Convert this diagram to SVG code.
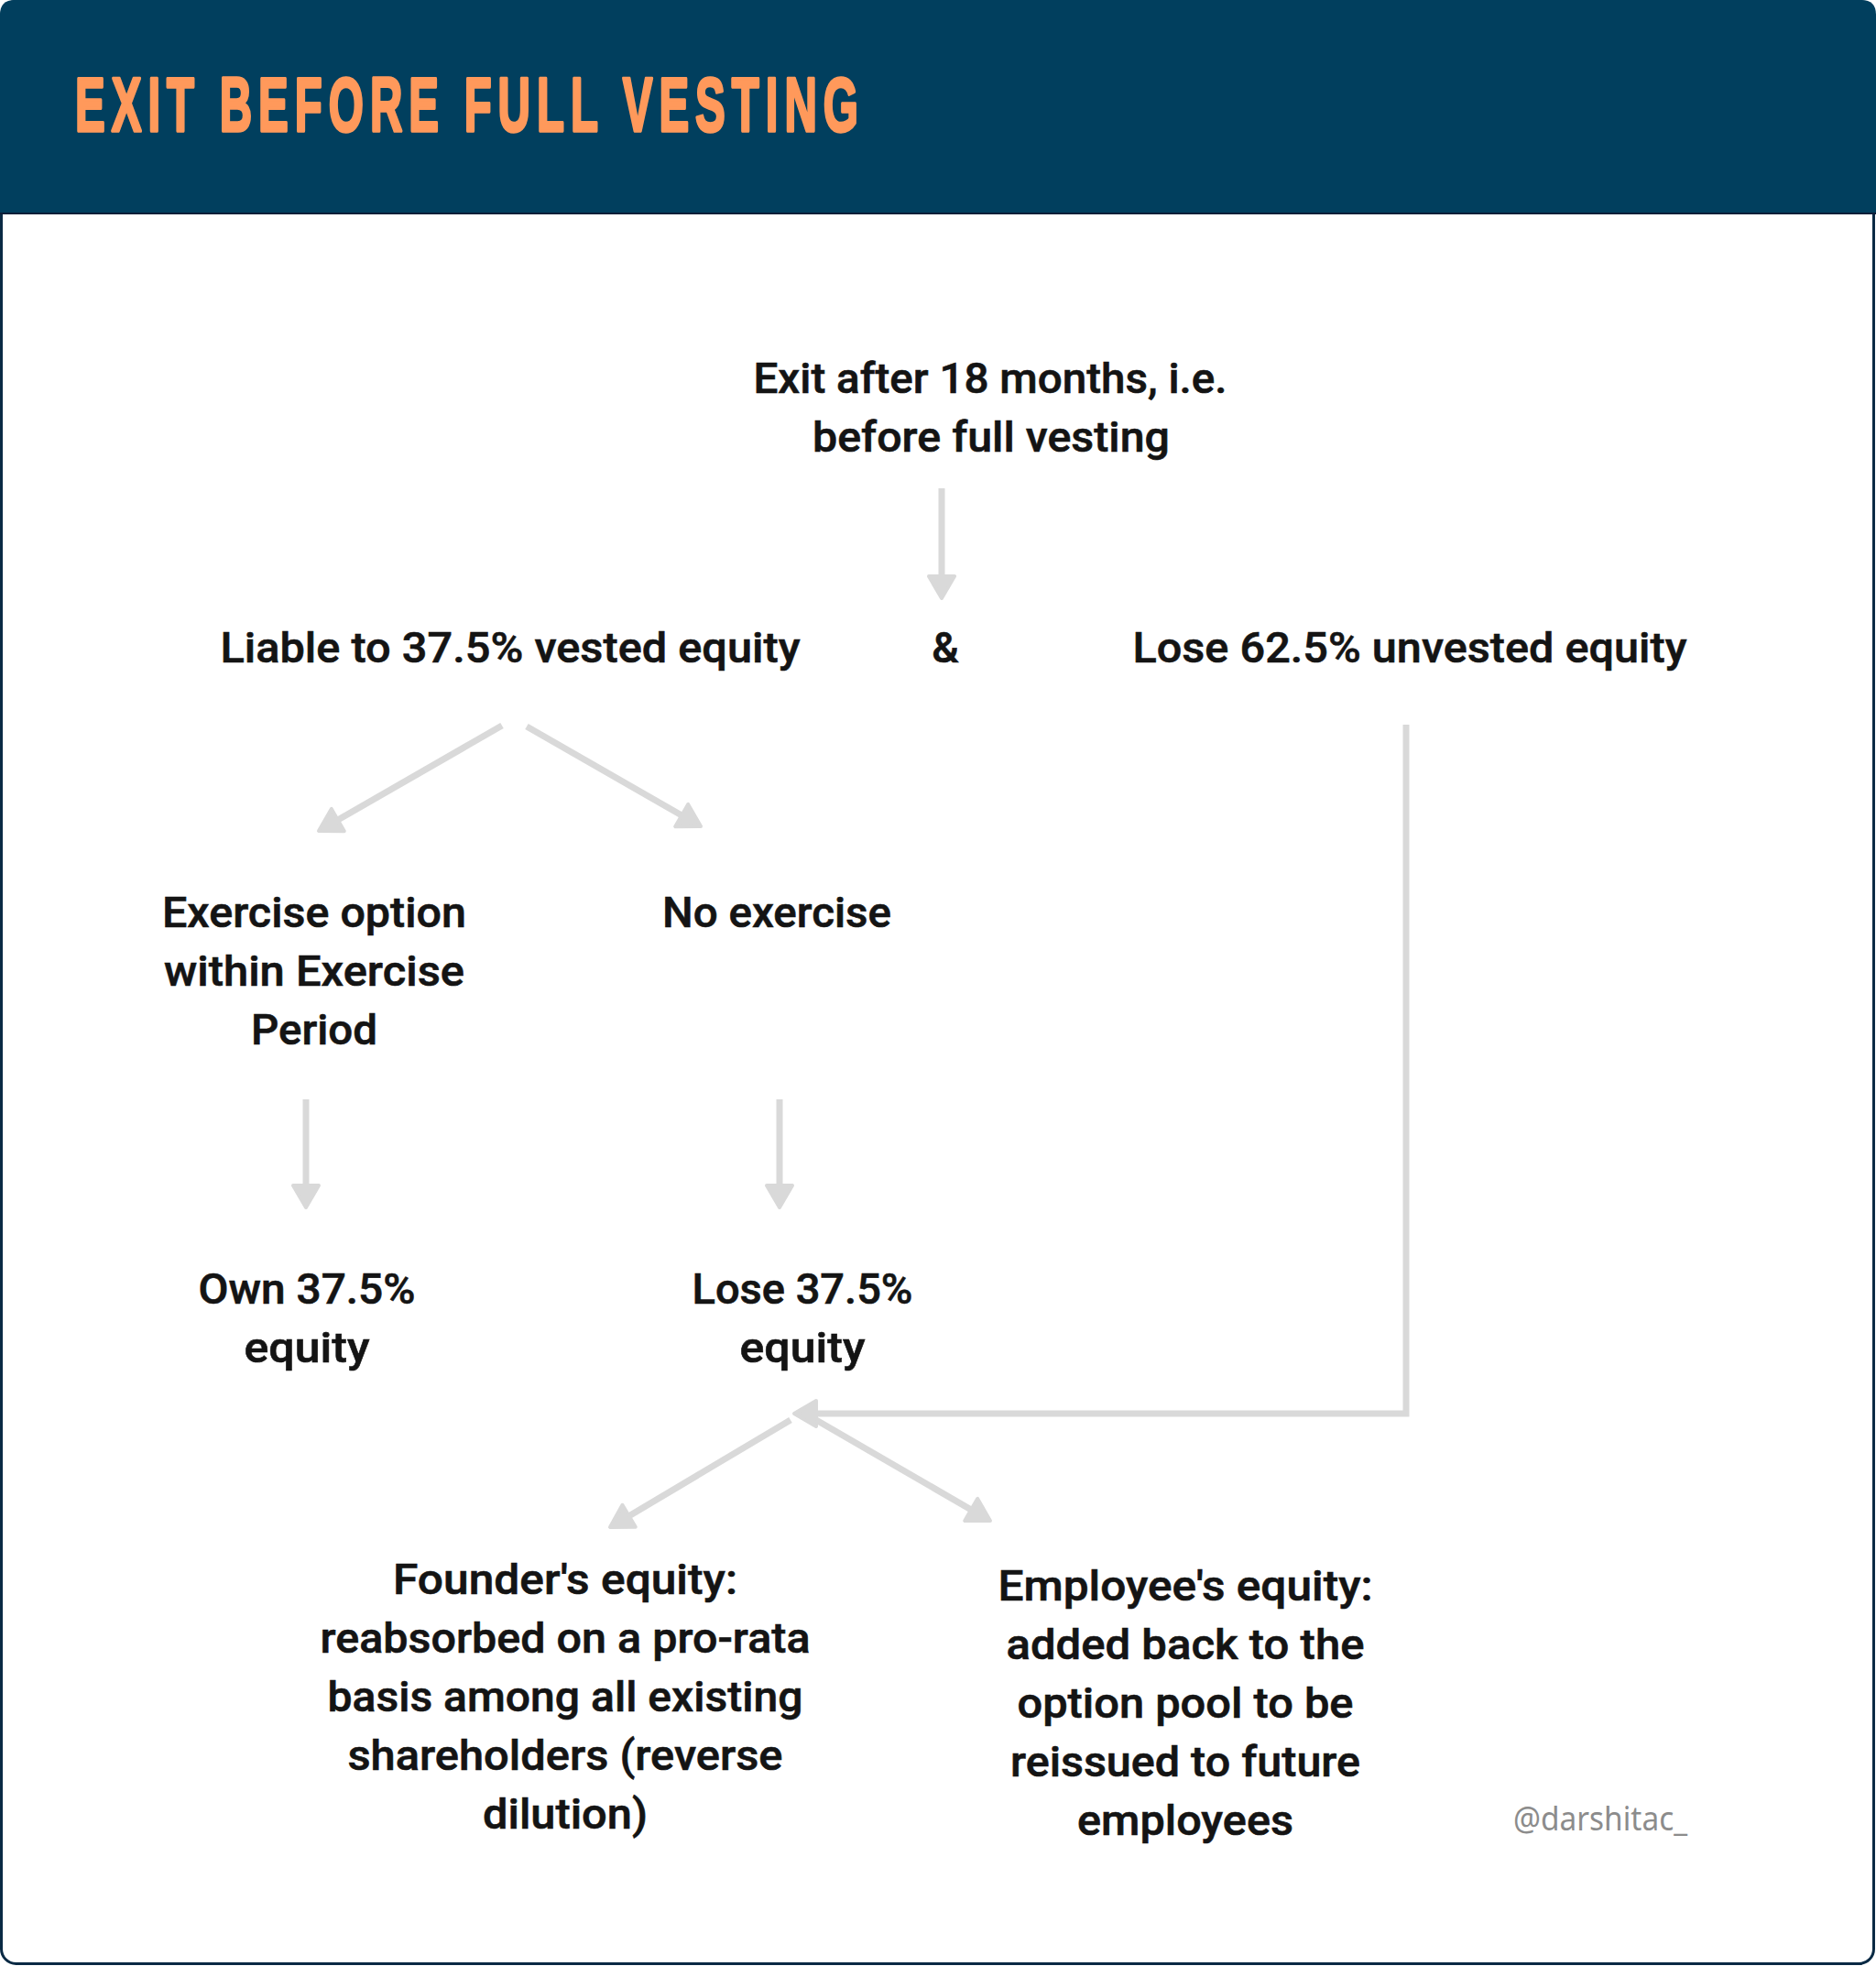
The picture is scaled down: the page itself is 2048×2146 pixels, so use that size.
<svg xmlns="http://www.w3.org/2000/svg" width="2048" height="2146" viewBox="0 0 2048 2146">
  <style>
    .t { font-family: Roboto, "Liberation Sans", Arial, sans-serif; font-weight: 500; font-size: 46px; fill: #141414; text-anchor: middle; stroke: #141414; stroke-width: 0.6px; }
    .title { font-family: "Liberation Sans", Arial, sans-serif; font-weight: 700; font-size: 84px; letter-spacing: 12px; fill: #FF995B; stroke: #FF995B; stroke-width: 3.5px; stroke-linejoin: round; }
    .wm { font-family: "Noto Sans", "Liberation Sans", sans-serif; font-weight: 400; font-size: 37px; fill: #8c8c8c; }
    .c { fill: none; stroke: #D9D9D9; stroke-width: 7px; marker-end: url(#ah); }
  </style>
  <defs>
    <marker id="ah" markerUnits="userSpaceOnUse" markerWidth="44" markerHeight="44" viewBox="-22 -22 44 44" refX="0" refY="0" orient="auto">
      <path d="M12,0 L-12,-14 L-12,14 Z" fill="#D9D9D9" stroke="#D9D9D9" stroke-width="4" stroke-linejoin="round"/>
    </marker>
  </defs>

  <rect x="0" y="0" width="2048" height="2146" fill="#ffffff"/>
  <g id="frame">
    <rect x="1.5" y="1.5" width="2044" height="2142" rx="16" ry="16" fill="#ffffff" stroke="#0A2A44" stroke-width="3"/>
    <path d="M0,233 L0,16 Q0,0 16,0 L2032,0 Q2048,0 2048,16 L2048,233 Z" fill="#013F5E"/>
    <line x1="0" y1="233" x2="2048" y2="233" stroke="#0B1E38" stroke-width="2"/>
  </g>

  <g id="header">
    <text class="title" x="82" y="143" textLength="862" lengthAdjust="spacingAndGlyphs">EXIT BEFORE FULL VESTING</text>
  </g>

  <g id="connectors">
    <line class="c" x1="1028" y1="533" x2="1028" y2="641"/>
    <line class="c" x1="548" y1="792" x2="358.4" y2="901"/>
    <line class="c" x1="575" y1="793" x2="754.6" y2="896"/>
    <line class="c" x1="334" y1="1200" x2="334" y2="1306"/>
    <line class="c" x1="851" y1="1200" x2="851" y2="1306"/>
    <polyline class="c" points="1535,791 1535,1543 879,1543" stroke-linejoin="miter"/>
    <line class="c" x1="863" y1="1550" x2="676.3" y2="1660.9"/>
    <line class="c" x1="891" y1="1550" x2="1070.6" y2="1654"/>
  </g>

  <g id="node-exit">
    <text class="t" x="1081" y="429" textLength="517" lengthAdjust="spacingAndGlyphs">Exit after 18 months, i.e.</text>
    <text class="t" x="1082" y="493" textLength="390" lengthAdjust="spacingAndGlyphs">before full vesting</text>
  </g>

  <g id="node-vested">
    <text class="t" x="557" y="723" textLength="633" lengthAdjust="spacingAndGlyphs">Liable to 37.5% vested equity</text>
  </g>

  <g id="node-and">
    <text class="t" x="1032" y="723">&amp;</text>
  </g>

  <g id="node-unvested">
    <text class="t" x="1539" y="723" textLength="605" lengthAdjust="spacingAndGlyphs">Lose 62.5% unvested equity</text>
  </g>

  <g id="node-exercise">
    <text class="t" x="343" y="1012" textLength="332" lengthAdjust="spacingAndGlyphs">Exercise option</text>
    <text class="t" x="343" y="1076" textLength="328" lengthAdjust="spacingAndGlyphs">within Exercise</text>
    <text class="t" x="343" y="1140" textLength="138" lengthAdjust="spacingAndGlyphs">Period</text>
  </g>

  <g id="node-noexercise">
    <text class="t" x="848" y="1012" textLength="250" lengthAdjust="spacingAndGlyphs">No exercise</text>
  </g>

  <g id="node-own">
    <text class="t" x="335" y="1423" textLength="237" lengthAdjust="spacingAndGlyphs">Own 37.5%</text>
    <text class="t" x="335" y="1487" textLength="137" lengthAdjust="spacingAndGlyphs">equity</text>
  </g>

  <g id="node-lose">
    <text class="t" x="876" y="1423" textLength="241" lengthAdjust="spacingAndGlyphs">Lose 37.5%</text>
    <text class="t" x="876" y="1487" textLength="137" lengthAdjust="spacingAndGlyphs">equity</text>
  </g>

  <g id="node-founder">
    <text class="t" x="617" y="1740" textLength="376" lengthAdjust="spacingAndGlyphs">Founder's equity:</text>
    <text class="t" x="617" y="1804" textLength="535" lengthAdjust="spacingAndGlyphs">reabsorbed on a pro-rata</text>
    <text class="t" x="617" y="1868" textLength="519" lengthAdjust="spacingAndGlyphs">basis among all existing</text>
    <text class="t" x="617" y="1932" textLength="475" lengthAdjust="spacingAndGlyphs">shareholders (reverse</text>
    <text class="t" x="617" y="1996" textLength="180" lengthAdjust="spacingAndGlyphs">dilution)</text>
  </g>

  <g id="node-employee">
    <text class="t" x="1294" y="1747" textLength="409" lengthAdjust="spacingAndGlyphs">Employee's equity:</text>
    <text class="t" x="1294" y="1811" textLength="391" lengthAdjust="spacingAndGlyphs">added back to the</text>
    <text class="t" x="1294" y="1875" textLength="367" lengthAdjust="spacingAndGlyphs">option pool to be</text>
    <text class="t" x="1294" y="1939" textLength="382" lengthAdjust="spacingAndGlyphs">reissued to future</text>
    <text class="t" x="1294" y="2003" textLength="236" lengthAdjust="spacingAndGlyphs">employees</text>
  </g>

  <g id="watermark">
    <text class="wm" x="1652" y="1998" textLength="190" lengthAdjust="spacingAndGlyphs">@darshitac_</text>
  </g>
</svg>
